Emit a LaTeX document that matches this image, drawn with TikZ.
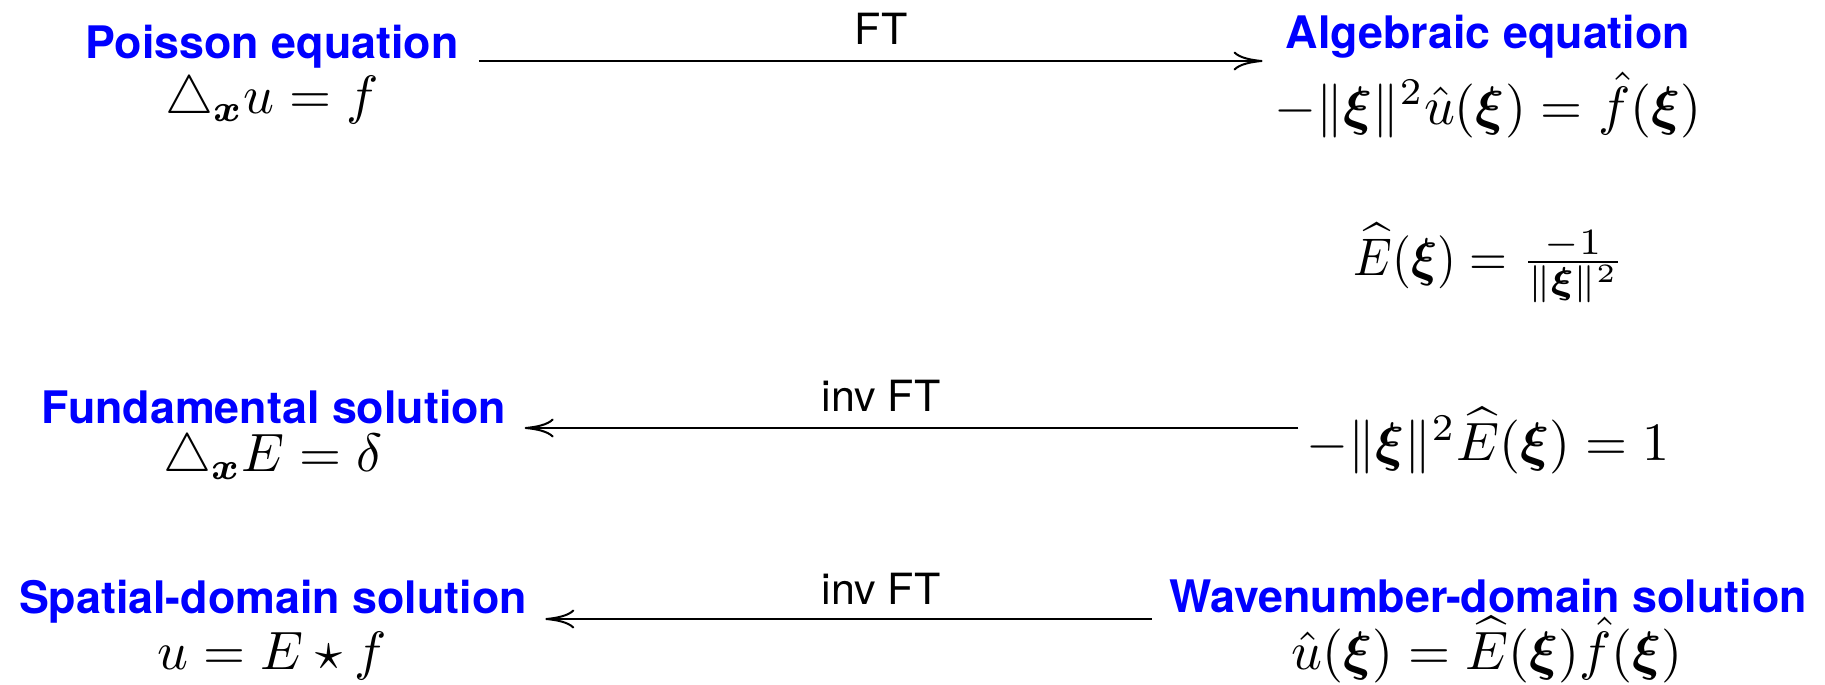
\RequirePackage{fix-cm}
\documentclass[tikz,border=0pt]{standalone}
\usepackage{amsmath,bm,graphicx}
\usepackage{fontspec}
\setsansfont{TeX Gyre Heros}
\usetikzlibrary{arrows.meta,calc}
\definecolor{tblue}{RGB}{0,0,255}
\newcommand\mth[1]{\scalebox{2.70}{\fontsize{10}{12}\selectfont$#1$}}
\begin{document}
\begin{tikzpicture}[x=0.5pt,y=-0.5pt,
  ttl/.style={inner sep=0pt, anchor=base, text=tblue, font=\sffamily\bfseries\fontsize{22.4}{26}\selectfont},
  eqn/.style={inner sep=0pt, anchor=base},
  lbl/.style={inner sep=0pt, anchor=base, font=\sffamily\fontsize{21.5}{26}\selectfont},
  arr/.style={line width=1pt, -{Computer Modern Rightarrow[length=14.5pt,width=9.5pt]}}]
\useasboundingbox (0,0) rectangle (1825,685);
% row 1
\node[ttl] (poisson) at (272,58) {Poisson equation};
\node[eqn] (poissoneq) at (272,113) {\mth{\triangle_{\bm{x}} u = f}};
\node[ttl] (alg) at (1488,48) {Algebraic equation};
\node[eqn] (algeq) at (1488,124) {\mth{-\|\bm{\xi}\|^2\hat{u}(\bm{\xi}) = \hat{f}(\bm{\xi})}};
% row 2
\node[eqn] (ehat) at (1489,275) {\scalebox{2.435}[2.65]{\fontsize{10}{12}\selectfont$\widehat{E}(\bm{\xi}) = \scalebox{1.13}[1.0]{$\frac{-1}{\|\bm{\xi}\|^2}$}$}};
% row 3
\node[ttl] (fund) at (274,423) {Fundamental solution};
\node[eqn] (fundeq) at (273,471) {\mth{\triangle_{\bm{x}} E = \delta}};
\node[eqn] (ehateq) at (1488,460) {\mth{-\|\bm{\xi}\|^2\widehat{E}(\bm{\xi}) = 1}};
% row 4
\node[ttl] (spat) at (273,613) {Spatial-domain solution};
\node[eqn] (spateq) at (272,669) {\mth{u = E\star f}};
\node[ttl] (wave) at (1488,612) {Wavenumber-domain solution};
\node[eqn] (waveeq) at (1487,669) {\mth{\hat{u}(\bm{\xi}) = \widehat{E}(\bm{\xi})\hat{f}(\bm{\xi})}};
% labels
\node[lbl] (ft) at (881,44) {FT};
\node[lbl] (invft1) at (881,411) {inv FT};
\node[lbl] (invft2) at (881,604) {inv FT};
% arrows
\coordinate (a1) at ($(poisson.base east)+(20,3)$);
\draw[arr] (a1) -- ($(a1 -| alg.base west)+(-23,0)$);
\coordinate (a3) at ($(fund.base east)+(18,5)$);
\draw[arr] ($(a3 -| ehateq.west)+(-8,0)$) -- (a3);
\coordinate (a4) at ($(spat.base east)+(18,6)$);
\draw[arr] ($(a4 -| wave.west)+(-17,0)$) -- (a4);
\end{tikzpicture}
\end{document}
